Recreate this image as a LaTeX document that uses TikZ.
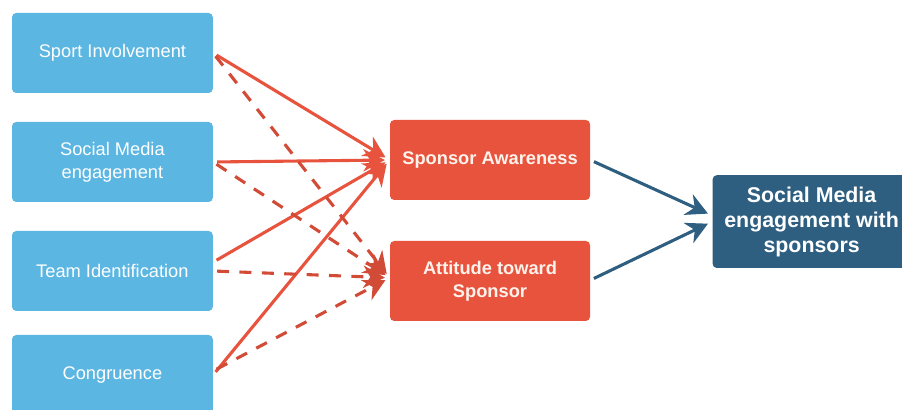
\documentclass[tikz,border=0pt]{standalone}
\usepackage{fontspec}
\setmainfont{Liberation Sans}
\usepackage{xcolor}
\usetikzlibrary{positioning,arrows.meta,calc}

\definecolor{inblue}{HTML}{5BB6E2}
\definecolor{medred}{HTML}{E8533D}
\definecolor{outblue}{HTML}{2E5E80}
\definecolor{txtcream}{HTML}{FDF3EC}

\begin{document}
\begin{tikzpicture}[
  >={Stealth[length=5.4mm,width=5.6mm]},
  every node/.style={font=\fontsize{13}{16.3}\selectfont},
  inbox/.style={rectangle, rounded corners=3pt, minimum height=20mm,
                minimum width=50.2mm, align=center, inner sep=2pt,
                fill=inblue, text=white},
  medbox/.style={rectangle, rounded corners=3pt, minimum height=20mm,
                 minimum width=50mm, align=center, inner sep=2pt,
                 fill=medred, text=txtcream, font=\fontsize{13}{16.3}\selectfont\bfseries},
  outbox/.style={rectangle, rounded corners=3pt, minimum height=23.2mm,
                 minimum width=49.5mm, align=center, inner sep=2pt,
                 fill=outblue, text=white, font=\fontsize{15.2}{17.8}\selectfont\bfseries},
  direct/.style={->, line width=2.2pt, medred, shorten <=1mm, shorten >=1.2mm},
  indirect/.style={->, line width=2.2pt, medred!90!black, dash pattern=on 3mm off 2.6mm,
                   shorten <=1mm, shorten >=1.2mm},
  outflow/.style={->, line width=2.2pt, outblue, shorten <=1mm, shorten >=1.2mm}
]

\useasboundingbox (0,0) rectangle (22.55,10.25);

% ---- Column positions ----
\def\xA{2.81}    % predictor col
\def\xB{12.25}   % mediator col
\def\xC{20.29}   % outcome col

% ---- Predictors ----
\node[inbox] (sport) at (\xA,8.925) {Sport Involvement};
\node[inbox] (smeng) at (\xA,6.2)   {Social Media\\engagement};
\node[inbox] (team)  at (\xA,3.475) {Team Identification};
\node[inbox] (cong)  at (\xA,0.875) {Congruence};

% ---- Mediators ----
\node[medbox] (aware) at (\xB,6.25)  {Sponsor Awareness};
\node[medbox] (att)   at (\xB,3.225) {Attitude toward\\Sponsor};

% ---- Outcome ----
\node[outbox] (smsp) at (\xC,4.71) {Social Media\\engagement with\\sponsors};

% ---- Arrows: predictors -> awareness (solid) ----
\draw[direct] (sport.east) -- (aware.west);
\draw[direct] (smeng.east) -- (aware.west);
\draw[direct] ([yshift=2.2mm]team.east) -- (aware.west);
\draw[direct] (cong.east) -- (aware.west);

% ---- Arrows: predictors -> attitude (dashed) ----
\foreach \p in {sport, smeng, team}{
  \draw[indirect] (\p.east) -- ([yshift=0.8mm]att.west);
}
\draw[indirect] ([yshift=1mm]cong.east) -- ([yshift=0.8mm]att.west);

% ---- Arrows: mediators -> outcome ----
\draw[outflow] (aware.east) -- ([yshift=1.5mm]smsp.west);
\draw[outflow] ([yshift=0.2mm]att.east) -- ([yshift=0mm]smsp.west);

\end{tikzpicture}
\end{document}
